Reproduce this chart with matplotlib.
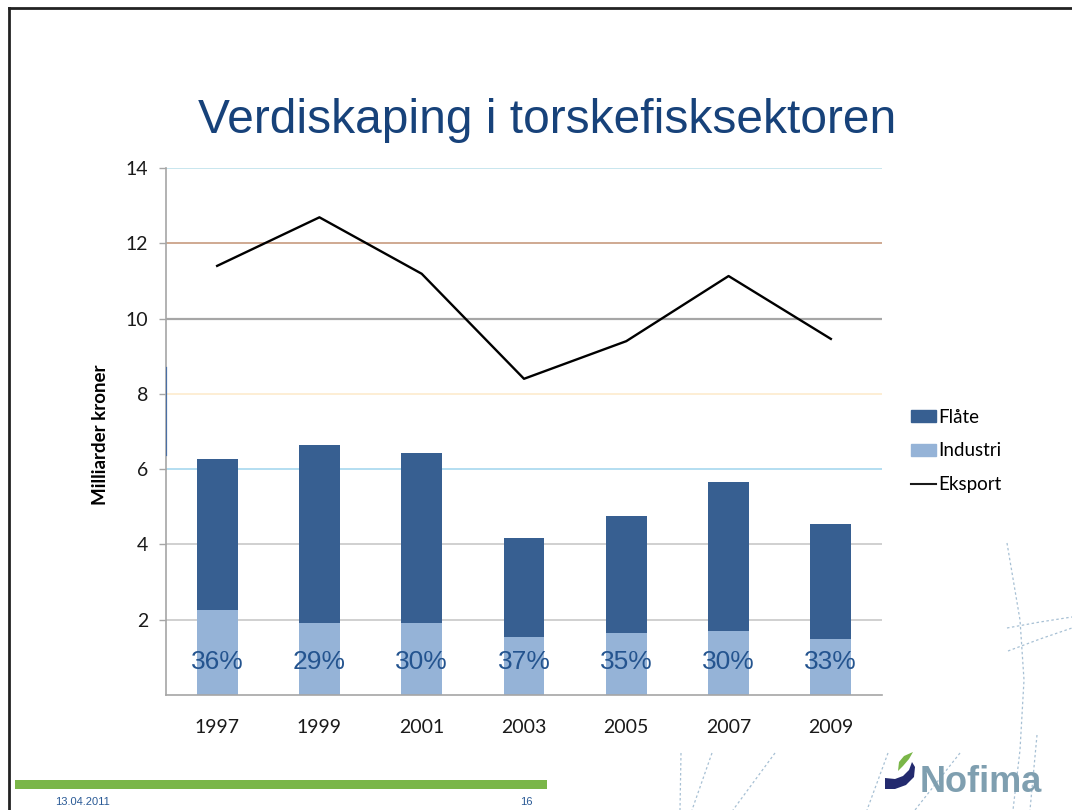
import matplotlib.pyplot as plt
from matplotlib.patches import Patch, Polygon, Rectangle
from matplotlib.lines import Line2D

# values (milliarder kroner)
years = ['1997', '1999', '2001', '2003', '2005', '2007', '2009']
industri = [2.27, 1.92, 1.90, 1.55, 1.66, 1.69, 1.49]
flate = [4.01, 4.73, 4.53, 2.62, 3.09, 3.97, 3.04]
eksport = [11.40, 12.69, 11.19, 8.40, 9.40, 11.13, 9.46]
andel = ['36%', '29%', '30%', '37%', '35%', '30%', '33%']
yticks = [2, 4, 6, 8, 10, 12, 14]

dark = '#375f91'
light = '#95b3d7'
navy = '#17427a'

W, H = 1072, 810
fig = plt.figure(figsize=(W / 100, H / 100), dpi=100)

def fx(px):
    return px / W

def fy(py):
    return 1 - py / H

ax = fig.add_axes([fx(166), fy(695), fx(882) - fx(166), fy(168) - fy(695)])

# odd coloured gridlines like the original slide
grid_cols = {2: '#c3c3c3', 4: '#c3c3c3', 6: '#9fd4ee', 8: '#fde9c9',
             10: '#a6a6a6', 12: '#c29274', 14: '#b9dfe9'}
for v in yticks:
    ax.axhline(v, color=grid_cols[v], lw=1.6 if v == 10 else 1.1, zorder=0)

x = list(range(len(years)))
ax.bar(x, industri, width=0.40, color=light, label='Industri', zorder=2)
ax.bar(x, flate, width=0.40, bottom=industri, color=dark, label='Flåte', zorder=2)
ax.plot(x, eksport, color='black', lw=1.7, label='Eksport', zorder=3)

for i, txt in enumerate(andel):
    ax.text(i, 0.88, txt, ha='center', va='center', fontsize=19,
            family='Liberation Sans', color='#24548f', zorder=4)

ax.set_xlim(-0.5, 6.5)
ax.set_ylim(0, 14)
ax.set_xticks(x)
ax.set_xticklabels(years)
ax.set_yticks(yticks)
ax.tick_params(axis='x', length=0, pad=17, labelsize=14)
ax.tick_params(axis='y', length=5, width=1, color='#a6a6a6', labelsize=14, pad=8)
for lab in ax.get_xticklabels() + ax.get_yticklabels():
    lab.set_family('Lato')
    lab.set_color('#1a1a1a')
for s in ['top', 'right']:
    ax.spines[s].set_visible(False)
ax.spines['left'].set_color('#a6a6a6')
ax.spines['bottom'].set_color('#a6a6a6')
ax.spines['left'].set_linewidth(1.2)
ax.spines['bottom'].set_linewidth(1.2)
# stray blue segment on the value axis
ax.axvline(-0.5, ymin=6.37 / 14, ymax=8.7 / 14, color='#4a6fa5', lw=1.6, zorder=5)

handles = [Patch(color=dark), Patch(color=light), Line2D([], [], color='#1a1a1a', lw=1.5)]
fig.legend(handles, ['Flåte', 'Industri', 'Eksport'], loc='center left',
           bbox_to_anchor=(fx(902), fy(451)), frameon=False,
           prop={'family': 'Lato', 'size': 13.5}, handlelength=1.3,
           handleheight=0.6, handletextpad=0.15, labelspacing=0.9, borderpad=0)

fig.text(fx(100), fy(435), 'Milliarder kroner', rotation=90, ha='center', va='center',
         fontsize=13.5, fontweight='bold', family='Lato', color='black')

fig.text(fx(547), fy(133), 'Verdiskaping i torskefisksektoren', ha='center',
         va='baseline', fontsize=34.5, family='Liberation Sans', color=navy)

# slide frame
fig.add_artist(Line2D([fx(9), fx(1072)], [fy(8), fy(8)], color='#222222', lw=2))
fig.add_artist(Line2D([fx(9), fx(9)], [fy(8), fy(810)], color='#222222', lw=2))

# footer
fig.add_artist(Rectangle((fx(15), fy(789)), fx(547) - fx(15), fy(780) - fy(789),
                         color='#7ab648', lw=0))
fig.text(fx(55), fy(802), '13.04.2011', fontsize=8, family='Liberation Sans',
         color='#2a5a96', va='center')
fig.text(fx(533), fy(802), '16', fontsize=8, family='Liberation Sans',
         color='#2a5a96', va='center', ha='right')

# decorative dashed curves
dash = dict(color='#a7c0d4', lw=0.9, ls=(0, (2, 2)))
for xs, ys in [([1007, 1020, 1024, 1020, 1013], [543, 620, 680, 750, 810]),
               ([1007, 1040, 1072], [628, 622, 617]),
               ([1008, 1040, 1072], [651, 639, 628]),
               ([681, 680], [753, 810]),
               ([712, 692], [753, 810]),
               ([775, 733], [753, 810]),
               ([888, 867], [753, 810]),
               ([960, 915], [753, 810]),
               ([1037, 1030], [735, 810])]:
    fig.add_artist(Line2D([fx(v) for v in xs], [fy(v) for v in ys], **dash))

# Nofima logo
swoosh = [(885, 778), (895, 779), (903, 776), (909, 770), (912, 762), (915, 767),
          (914, 777), (906, 785), (895, 789), (885, 789)]
leaf = [(898, 771), (899, 762), (904, 756), (913, 752), (909, 759), (903, 766)]
fig.add_artist(Polygon([(fx(a), fy(b)) for a, b in swoosh], closed=True, color='#232a6e', lw=0))
fig.add_artist(Polygon([(fx(a), fy(b)) for a, b in leaf], closed=True, color='#7ab648', lw=0))
fig.text(fx(920), fy(792), 'Nofima', fontsize=26, fontweight='bold', family='Liberation Sans',
         color='#7f9fb0', va='baseline')

fig.savefig('out.png', dpi=100)
